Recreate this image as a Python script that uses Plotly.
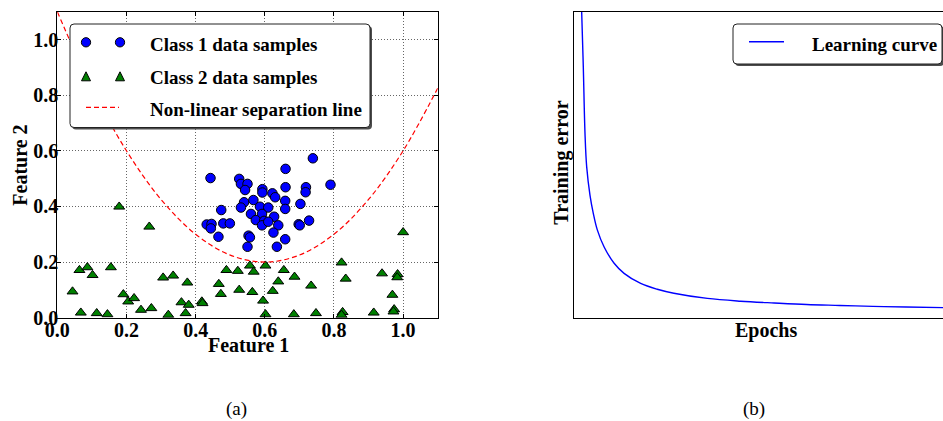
import plotly.graph_objects as go

# ---------------- data ----------------
class1_x = [0.443, 0.526, 0.531, 0.550, 0.543, 0.593, 0.593, 0.622, 0.630, 0.660, 0.660, 0.739,
            0.790, 0.719, 0.718, 0.659, 0.659, 0.703, 0.540, 0.567, 0.531, 0.474, 0.586, 0.610,
            0.560, 0.592, 0.627, 0.574, 0.598, 0.592, 0.610, 0.639, 0.432, 0.446, 0.444, 0.480,
            0.499, 0.466, 0.553, 0.557, 0.550, 0.625, 0.659, 0.635, 0.698, 0.728, 0.701]
class1_y = [0.502, 0.499, 0.481, 0.481, 0.459, 0.462, 0.450, 0.447, 0.433, 0.535, 0.469, 0.573,
            0.478, 0.469, 0.451, 0.420, 0.391, 0.409, 0.415, 0.423, 0.396, 0.387, 0.399, 0.396,
            0.373, 0.373, 0.363, 0.351, 0.348, 0.332, 0.345, 0.332, 0.335, 0.337, 0.321, 0.339,
            0.339, 0.291, 0.295, 0.289, 0.255, 0.306, 0.282, 0.255, 0.336, 0.349, 0.332]

class2_x = [0.044, 0.064, 0.087, 0.102, 0.068, 0.114, 0.145, 0.155, 0.179, 0.191, 0.205, 0.222,
            0.242, 0.266, 0.272, 0.306, 0.335, 0.321, 0.359, 0.376, 0.380, 0.371, 0.418, 0.420,
            0.467, 0.473, 0.489, 0.522, 0.526, 0.557, 0.568, 0.564, 0.595, 0.602, 0.602, 0.623,
            0.639, 0.655, 0.686, 0.684, 0.734, 0.748, 0.822, 0.834, 0.825, 0.822, 0.915, 0.939,
            0.969, 0.984, 0.983, 0.974, 0.972, 1.000]
class2_y = [0.094, 0.171, 0.181, 0.153, 0.018, 0.016, 0.012, 0.181, 0.399, 0.084, 0.058, 0.070,
            0.028, 0.327, 0.034, 0.144, 0.151, 0.010, 0.055, 0.126, 0.046, 0.016, 0.058, 0.052,
            0.121, 0.085, 0.171, 0.168, 0.100, 0.187, 0.165, 0.092, 0.061, 0.187, 0.012, 0.096,
            0.130, 0.171, 0.147, 0.012, 0.115, 0.016, 0.198, 0.140, 0.020, 0.010, 0.018, 0.159,
            0.082, 0.156, 0.145, 0.030, 0.022, 0.307]

sep_x = [0.0, 0.1, 0.2, 0.3, 0.4, 0.5, 0.6, 0.7, 0.8, 0.9, 1.0, 1.1]
sep_y = [1.10, 0.825, 0.60, 0.425, 0.30, 0.225, 0.20, 0.225, 0.30, 0.425, 0.60, 0.825]

epochs = [1.8, 2.0, 2.44, 2.9, 3.36, 4.26, 5.15, 6.24, 8.06, 10.8, 13.5, 18.0, 22.5, 27.0,
          36.1, 45.1, 54.2, 63.0, 72.0, 81.0, 90.0, 100.0]
train_err = [1.10, 1.0, 0.82, 0.603, 0.493, 0.400, 0.341, 0.287, 0.232, 0.178, 0.145, 0.112,
             0.093, 0.080, 0.063, 0.054, 0.048, 0.043, 0.040, 0.037, 0.035, 0.033]

tick_vals = [0.0, 0.2, 0.4, 0.6, 0.8, 1.0]
tick_text = ["0.0", "0.2", "0.4", "0.6", "0.8", "1.0"]

legend_left = ["Class 1 data samples", "Class 2 data samples", "Non-linear separation line"]
legend_right = ["Learning curve"]

# ---------------- layout helpers ----------------
W, H = 943, 421
def PX(px):
    return px / W
def PY(py):
    return 1 - py / H

FONT = "Liberation Serif"
BLUE = "#0000ff"
GREEN = "#008000"
RED = "#ff0000"

fig = go.Figure()

fig.add_trace(go.Scatter(x=class1_x, y=class1_y, mode="markers", xaxis="x", yaxis="y",
                         marker=dict(symbol="circle", size=9.5, color=BLUE,
                                     line=dict(color="black", width=1)),
                         name=legend_left[0], showlegend=False))
fig.add_trace(go.Scatter(x=class2_x, y=class2_y, mode="markers", xaxis="x", yaxis="y",
                         marker=dict(symbol="triangle-up", size=9.5, color=GREEN,
                                     line=dict(color="black", width=1)),
                         name=legend_left[1], showlegend=False))
fig.add_trace(go.Scatter(x=sep_x, y=sep_y, mode="lines", xaxis="x", yaxis="y",
                         line=dict(color=RED, width=1.2, dash="5px,3px", shape="spline"),
                         name=legend_left[2], showlegend=False))
fig.add_trace(go.Scatter(x=epochs, y=train_err, mode="lines", xaxis="x2", yaxis="y2",
                         line=dict(color=BLUE, width=1.4, shape="spline", smoothing=1.0),
                         name=legend_right[0], showlegend=False))

tickfont = dict(family=FONT, size=20, color="black", weight="bold")
grid = dict(showgrid=True, gridcolor="#666", gridwidth=1, griddash="1px,2px")

fig.update_layout(
    width=W, height=H, margin=dict(l=0, r=0, t=0, b=0, autoexpand=False),
    paper_bgcolor="white", plot_bgcolor="white",
    xaxis=dict(domain=[PX(57.3), PX(437.7)], range=[0, 1.1], tickvals=tick_vals, ticktext=tick_text,
               tickfont=tickfont, ticks="inside", ticklen=4, tickcolor="black",
               ticklabelstandoff=-6,
               showline=True, linecolor="black", linewidth=1, mirror="ticks", zeroline=False,
               anchor="y", automargin=False, **grid),
    yaxis=dict(domain=[PY(317.7), PY(11.7)], range=[0, 1.1], tickvals=tick_vals, ticktext=tick_text,
               tickfont=tickfont, ticks="inside", ticklen=4, tickcolor="black",
               ticklabelstandoff=-6,
               showline=True, linecolor="black", linewidth=1, mirror="ticks", zeroline=False,
               anchor="x", automargin=False, **grid),
    xaxis2=dict(domain=[PX(574.3), 1.0], range=[0, 100], showticklabels=False, ticks="",
                showgrid=False, zeroline=False, showline=True, linecolor="black", linewidth=1,
                mirror=True, anchor="y2", automargin=False),
    yaxis2=dict(domain=[PY(317.7), PY(11.7)], range=[0, 1], showticklabels=False, ticks="",
                showgrid=False, zeroline=False, showline=True, linecolor="black", linewidth=1,
                mirror=False, anchor="x2", automargin=False),
)

shapes = []
annotations = []

def rounded_box(x0, y0, x1, y1, r):
    pts = [
        f"M {PX(x0 + r)} {PY(y0)}",
        f"L {PX(x1 - r)} {PY(y0)}",
        f"Q {PX(x1)} {PY(y0)} {PX(x1)} {PY(y0 + r)}",
        f"L {PX(x1)} {PY(y1 - r)}",
        f"Q {PX(x1)} {PY(y1)} {PX(x1 - r)} {PY(y1)}",
        f"L {PX(x0 + r)} {PY(y1)}",
        f"Q {PX(x0)} {PY(y1)} {PX(x0)} {PY(y1 - r)}",
        f"L {PX(x0)} {PY(y0 + r)}",
        f"Q {PX(x0)} {PY(y0)} {PX(x0 + r)} {PY(y0)}",
        "Z",
    ]
    return " ".join(pts)

def legend_frame(x0, y0, x1, y1):
    shapes.append(dict(type="path", xref="paper", yref="paper", layer="above",
                       path=rounded_box(x0 + 2, y0 + 2, x1 + 2, y1 + 2, 4),
                       fillcolor="#4d4d4d", line=dict(width=0)))
    shapes.append(dict(type="path", xref="paper", yref="paper", layer="above",
                       path=rounded_box(x0, y0, x1, y1, 4),
                       fillcolor="white", line=dict(color="#222", width=1)))

def circle(cx, cy, d, color):
    shapes.append(dict(type="circle", xref="paper", yref="paper", layer="above",
                       x0=PX(cx - d / 2), x1=PX(cx + d / 2), y0=PY(cy + d / 2), y1=PY(cy - d / 2),
                       fillcolor=color, line=dict(color="black", width=1)))

def triangle(cx, cy, w, h, color):
    p = (f"M {PX(cx - w / 2)} {PY(cy + h / 2)} L {PX(cx + w / 2)} {PY(cy + h / 2)} "
         f"L {PX(cx)} {PY(cy - h / 2)} Z")
    shapes.append(dict(type="path", xref="paper", yref="paper", layer="above", path=p,
                       fillcolor=color, line=dict(color="black", width=1)))

def hline(xa, xb, y, color, dash=None, width=1.2):
    ln = dict(color=color, width=width)
    if dash:
        ln["dash"] = dash
    shapes.append(dict(type="line", xref="paper", yref="paper", layer="above",
                       x0=PX(xa), x1=PX(xb), y0=PY(y), y1=PY(y), line=ln))

def text(s, x, y, size=20, bold=True, xanchor="center", angle=0):
    annotations.append(dict(text=s, x=PX(x), y=PY(y), xref="paper", yref="paper",
                            showarrow=False, xanchor=xanchor, yanchor="middle", textangle=angle,
                            font=dict(family=FONT, size=size, color="black",
                                      weight="bold" if bold else "normal")))

# left legend
legend_frame(70, 24, 370, 127.5)
circle(86, 42.3, 9.3, BLUE)
circle(120, 42.3, 9.3, BLUE)
triangle(86, 76.3, 9, 9, GREEN)
triangle(120, 76.3, 9, 9, GREEN)
hline(86, 119, 107.3, RED, dash="5px,3px")
text(legend_left[0], 147.5, 44.5, size=19, xanchor="left")
text(legend_left[1], 147.5, 77.5, size=19, xanchor="left")
text(legend_left[2], 147.5, 109.7, size=19, xanchor="left")

# right legend
legend_frame(733, 24, 942, 64)
hline(749, 784, 41.7, BLUE, width=1.4)
text(legend_right[0], 810, 44.2, size=19, xanchor="left")

# axis titles and captions
text("Feature 1", 248.3, 345.3)
text("Feature 2", 19.7, 165, angle=-90)
text("Training error", 561.7, 163, angle=-90)
text("Epochs", 765.7, 330)
text("(a)", 236.7, 409, size=19, bold=False)
text("(b)", 754, 409, size=19, bold=False)

fig.update_layout(shapes=shapes, annotations=annotations)

# remove the browser's default 8px page margin so the figure fills the window exactly
fig.write_html("out.html",
               config={"displayModeBar": False},
               post_script="document.body.style.margin='0';"
                           "document.documentElement.style.overflow='hidden';")
